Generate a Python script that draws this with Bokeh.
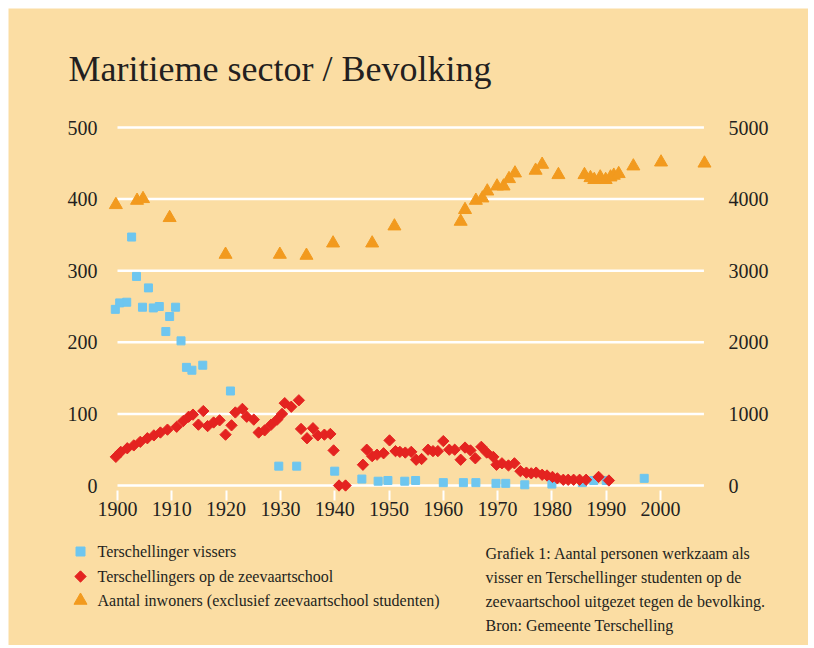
import math
from bokeh.plotting import figure
from bokeh.models import Range1d, LinearAxis, Label, FixedTicker
from bokeh.embed import file_html
from bokeh.resources import INLINE

# ---------------- data ----------------
vissers_year = [1899.6, 1900.4, 1901.7, 1902.6, 1903.5, 1904.6, 1905.7, 1906.6, 1907.7,
                1908.9, 1909.6, 1910.7, 1911.7, 1912.7, 1913.7, 1915.7, 1920.8, 1929.7,
                1933.0, 1940.0, 1945.0, 1948.0, 1949.8, 1952.9, 1954.9, 1960.0, 1963.7,
                1966.0, 1969.7, 1971.5, 1975.0, 1980.0, 1985.6, 1987.7, 1990.0, 1997.0]
vissers_val = [246, 255, 256, 347, 292, 249, 276, 248, 250,
               215, 236, 249, 202, 165, 161, 168, 132, 27,
               27, 20, 9, 6, 7, 6, 7, 4, 4,
               4, 3, 3, 1, 2, 4, 7, 7, 10]

zeevaart_year = [1899.7, 1900.6, 1901.8, 1903.0, 1904.2, 1905.5, 1906.7, 1907.9, 1909.2,
                 1910.9, 1912.1, 1913.1, 1913.9, 1914.9, 1915.8, 1916.6, 1917.7, 1918.8,
                 1919.9, 1921.0, 1921.7, 1923.0, 1923.8, 1925.1, 1926.0, 1927.1, 1928.3,
                 1929.4, 1930.3, 1930.8, 1932.0, 1933.4, 1933.8, 1934.9, 1936.0, 1936.9,
                 1938.1, 1939.2, 1939.8, 1940.8, 1942.0, 1945.2, 1945.9, 1946.9, 1947.8,
                 1949.0, 1950.1, 1951.2, 1952.0, 1953.0, 1954.1, 1955.0, 1956.0, 1957.2,
                 1958.1, 1959.0, 1960.0, 1961.1, 1962.1, 1963.2, 1964.0, 1965.0, 1965.9,
                 1967.0, 1968.0, 1969.2, 1969.8, 1970.8, 1972.0, 1973.1, 1974.2, 1975.3,
                 1976.2, 1977.1, 1978.2, 1979.1, 1980.1, 1981.0, 1982.1, 1983.0, 1984.0,
                 1985.1, 1986.3, 1988.6, 1990.5]
zeevaart_val = [40, 47, 52, 56, 61, 66, 70, 74, 78,
                82, 90, 96, 99, 85, 104, 83, 88, 91,
                71, 84, 102, 107, 96, 92, 74, 77, 85,
                92, 100, 115, 110, 119, 79, 66, 80, 70,
                71, 72, 49, 0, 0, 29, 50, 41, 43,
                45, 63, 48, 47, 46, 47, 36, 37, 50,
                48, 48, 62, 50, 50, 36, 53, 49, 38,
                54, 46, 40, 29, 31, 28, 31, 20, 18,
                17, 18, 15, 14, 12, 10, 8, 8, 8,
                8, 8, 12, 7]

inwoners_year = [1899.7, 1903.6, 1904.7, 1909.6, 1919.9, 1929.9, 1934.8, 1939.7, 1946.9,
                 1951.0, 1963.2, 1964.0, 1966.0, 1967.2, 1968.1, 1969.9, 1971.1, 1972.1,
                 1973.2, 1977.0, 1978.2, 1981.2, 1986.0, 1987.1, 1987.8, 1988.9, 1989.9,
                 1990.8, 1991.4, 1992.3, 1995.0, 2000.1, 2008.1]
inwoners_val = [3920, 3980, 4004, 3739, 3226, 3226, 3212, 3384, 3384,
                3622, 3687, 3851, 3980, 4013, 4110, 4180, 4180, 4283,
                4362, 4400, 4483, 4339, 4339, 4297, 4270, 4306, 4270,
                4306, 4330, 4353, 4460, 4515, 4500]

left_ticks = [0, 100, 200, 300, 400, 500]
right_ticks = [0, 1000, 2000, 3000, 4000, 5000]
year_ticks = [1900, 1910, 1920, 1930, 1940, 1950, 1960, 1970, 1980, 1990, 2000]
grid_from, grid_to = 1900, 2008

series_names = ["Terschellinger vissers",
                "Terschellingers op de zeevaartschool",
                "Aantal inwoners (exclusief zeevaartschool studenten)"]
title_text = "Maritieme sector / Bevolking"
caption_lines = ["Grafiek 1: Aantal personen werkzaam als",
                 "visser en Terschellinger studenten op de",
                 " zeevaartschool uitgezet tegen de bevolking.",
                 "Bron: Gemeente Terschelling"]

# ---------------- style / geometry ----------------
BG = "#FBDDA3"
INK = "#231F20"
FONT = "Liberation Serif"
BLUE = "#6EC6EF"
RED = "#E42320"
ORANGE = "#F29A1E"

OX, OY = 8, 8          # page position of the chart panel
W, H = 800, 637        # chart panel size
PX_YEAR = 5.43         # pixels per year
PX_UNIT = 0.716        # pixels per unit of the left axis
X1900_PX = 117         # page x of the year 1900
Y0_PX = 485            # page y of value 0

x_start = 1900 - (X1900_PX - OX) / PX_YEAR
x_end = x_start + W / PX_YEAR
y_end = (Y0_PX - OY) / PX_UNIT
y_start = y_end - H / PX_UNIT


def dx(page_x):
    return 1900 + (page_x - X1900_PX) / PX_YEAR


def dy(page_y):
    return (Y0_PX - page_y) / PX_UNIT


p = figure(width=W, height=H, output_backend="svg", toolbar_location=None,
           x_range=Range1d(x_start, x_end), y_range=Range1d(y_start, y_end),
           min_border=0, min_border_left=0, min_border_right=0,
           min_border_top=0, min_border_bottom=0,
           background_fill_color=BG, border_fill_color=BG, outline_line_color=None,
           margin=(OY, 6, 3, OX))
p.extra_y_ranges = {"right": Range1d(y_start * 10, y_end * 10)}
p.xgrid.visible = False
p.ygrid.visible = False

# gridlines
p.segment(x0=[grid_from] * len(left_ticks), y0=left_ticks,
          x1=[grid_to] * len(left_ticks), y1=left_ticks,
          line_color="white", line_width=2.5)

DIAMOND_ANGLE = math.pi / 4
p.scatter(vissers_year, vissers_val, marker="square", size=8,
          fill_color=BLUE, line_color=BLUE)
p.scatter(zeevaart_year, zeevaart_val, marker="square", angle=DIAMOND_ANGLE, size=8,
          fill_color=RED, line_color=RED)
p.scatter(inwoners_year, inwoners_val, marker="triangle", size=13,
          fill_color=ORANGE, line_color=ORANGE, y_range_name="right")

# axes (drawn at fixed positions so that the whole panel is the plot area)
xa = p.xaxis[0]
xa.fixed_location = dy(490)
xa.ticker = FixedTicker(ticks=year_ticks)
xa.axis_line_color = None
xa.major_tick_line_color = "white"
xa.major_tick_line_width = 2
xa.major_tick_in = 0
xa.major_tick_out = 10
xa.minor_tick_line_color = None
xa.major_label_text_font = FONT
xa.major_label_text_font_size = "20px"
xa.major_label_text_color = INK
xa.major_label_standoff = 1

ya = p.yaxis[0]
ya.fixed_location = dx(105)
ya.ticker = FixedTicker(ticks=left_ticks)
ya.axis_line_color = None
ya.major_tick_line_color = None
ya.minor_tick_line_color = None
ya.major_label_text_font = FONT
ya.major_label_text_font_size = "20px"
ya.major_label_text_color = INK
ya.major_label_standoff = 2

ra = LinearAxis(y_range_name="right", ticker=FixedTicker(ticks=right_ticks))
ra.fixed_location = dx(716)
ra.axis_line_color = None
ra.major_tick_line_color = None
ra.minor_tick_line_color = None
ra.major_label_text_font = FONT
ra.major_label_text_font_size = "20px"
ra.major_label_text_color = INK
ra.major_label_standoff = 6
p.add_layout(ra, "right")

# title
p.add_layout(Label(x=dx(68), y=dy(68), text=title_text, text_font=FONT,
                   text_font_size="36px", text_color=INK, text_baseline="middle"))

# caption
for i, line in enumerate(caption_lines):
    p.add_layout(Label(x=dx(485), y=dy(553 + i * 24), text=line, text_font=FONT,
                       text_font_size="16px", text_color=INK, text_baseline="middle"))

# legend keys and texts
key_rows = [551, 576, 600]
key_x = dx(80)
p.scatter([key_x], [dy(key_rows[0])], marker="square", size=9,
          fill_color=BLUE, line_color=BLUE)
p.scatter([key_x], [dy(key_rows[1])], marker="square", angle=DIAMOND_ANGLE, size=8,
          fill_color=RED, line_color=RED)
p.scatter([key_x], [dy(key_rows[2])], marker="triangle", size=13,
          fill_color=ORANGE, line_color=ORANGE)
for name, row in zip(series_names, key_rows):
    p.add_layout(Label(x=dx(97), y=dy(row), text=name, text_font=FONT,
                       text_font_size="16px", text_color=INK, text_baseline="middle"))

open("out.html", "w").write(file_html(p, INLINE))
